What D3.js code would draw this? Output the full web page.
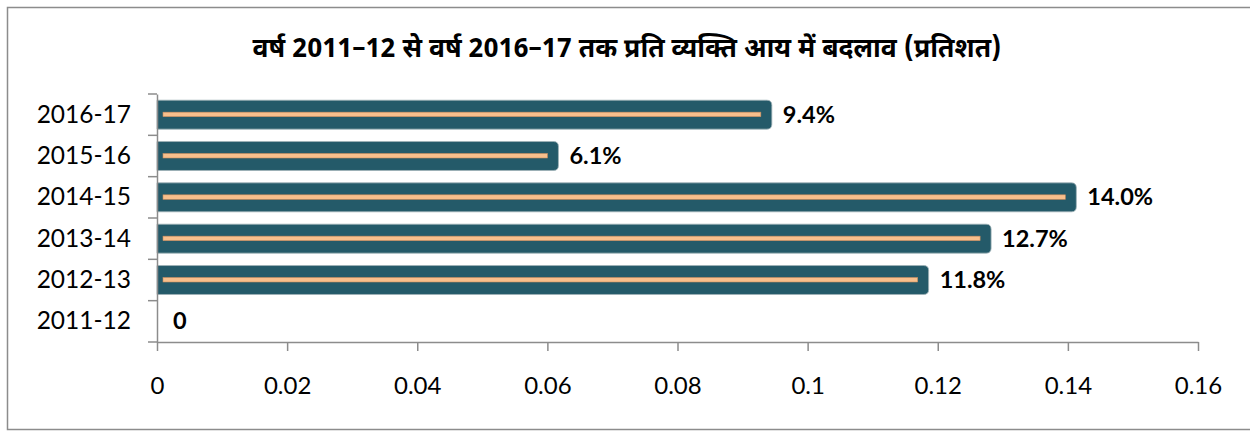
<!DOCTYPE html>
<html>
<head>
<meta charset="utf-8">
<script src="https://cdn.jsdelivr.net/npm/d3@7"></script>
<style>
  body { margin: 0; background: #fff; }
  svg { display: block; }
</style>
</head>
<body>
<div id="wrapper"></div>
<script>
// chart data
const years = ["2011-12", "2012-13", "2013-14", "2014-15", "2015-16", "2016-17"];
const growth = [0, 0.1186, 0.1282, 0.1413, 0.0617, 0.0945];
const valueLabels = ["0", "11.8%", "12.7%", "14.0%", "6.1%", "9.4%"];
const xTicks = [0, 0.02, 0.04, 0.06, 0.08, 0.1, 0.12, 0.14, 0.16];
const title = "वर्ष 2011–12 से वर्ष 2016–17 तक प्रति व्यक्ति आय में बदलाव (प्रतिशत)";

const data = years.map((y, i) => ({ year: y, value: growth[i], label: valueLabels[i] }));

const dims = {
  width: 1250,
  height: 432,
  margin: { top: 94, right: 52, bottom: 90, left: 157 }
};
dims.boundedWidth = dims.width - dims.margin.left - dims.margin.right;
dims.boundedHeight = dims.height - dims.margin.top - dims.margin.bottom - 0;

const svg = d3.select("#wrapper")
  .append("svg")
  .attr("width", dims.width)
  .attr("height", dims.height);

// outer frame
svg.append("rect")
  .attr("x", 7.5)
  .attr("y", 7.5)
  .attr("width", 1260)
  .attr("height", 422)
  .attr("fill", "none")
  .attr("stroke", "#8c8c8c")
  .attr("stroke-width", 1.5);

svg.append("text")
  .attr("x", 627)
  .attr("y", 57)
  .attr("text-anchor", "middle")
  .attr("font-family", "'Noto Sans Devanagari', 'Noto Sans', sans-serif")
  .attr("font-size", "26.5px")
  .attr("font-weight", "bold")
  .text(title);

const bounds = svg.append("g")
  .attr("transform", `translate(${dims.margin.left},${dims.margin.top})`);

const x = d3.scaleLinear()
  .domain([0, 0.16])
  .range([0, 1041]);

const y = d3.scaleBand()
  .domain(years.slice().reverse())
  .range([0, 248])
  .paddingInner(0.3)
  .paddingOuter(0.15);

const axisColor = "#8c8c8c";

// bars, rounded on the right end only
const barPath = (w, h, r) => {
  r = Math.min(r, w, h / 2);
  return `M0,0 H${w - r} Q${w},0 ${w},${r} V${h - r} Q${w},${h} ${w - r},${h} H0 Z`;
};

const barGroups = bounds.selectAll("g.bar")
  .data(data.filter(d => d.value > 0))
  .join("g")
  .attr("class", "bar")
  .attr("transform", d => `translate(0,${y(d.year)})`);

barGroups.append("path")
  .attr("d", d => barPath(x(d.value), y.bandwidth(), 5))
  .attr("fill", "#245a69")
  .attr("stroke", "#9fb3b8")
  .attr("stroke-width", 0.8);

barGroups.append("rect")
  .attr("x", 6)
  .attr("y", y.bandwidth() / 2 - 2.5)
  .attr("width", d => x(d.value) - 17)
  .attr("height", 4.5)
  .attr("fill", "#f8bf8c")
  .attr("stroke", "#c98c5e")
  .attr("stroke-width", 0.6);

// value labels
bounds.selectAll("text.val")
  .data(data)
  .join("text")
  .attr("class", "val")
  .attr("x", d => d.value > 0 ? x(d.value) + 11 : 16)
  .attr("y", d => y(d.year) + y.bandwidth() / 2 + 8)
  .attr("font-family", "Lato, 'Open Sans', sans-serif")
  .attr("font-weight", "bold")
  .attr("font-size", "23.5px")
  .text(d => d.label);

// x axis
const xAxisGen = d3.axisBottom(x)
  .tickValues(xTicks)
  .tickFormat(d => d3.format("")(+d.toFixed(2)))
  .tickSize(9)
  .tickSizeOuter(0)
  .tickPadding(26);

const xAxis = bounds.append("g")
  .attr("transform", `translate(0,248)`)
  .call(xAxisGen);

xAxis.select(".domain").attr("stroke", axisColor).attr("stroke-width", 1.5);
xAxis.selectAll(".tick line").attr("stroke", axisColor).attr("stroke-width", 1.5);
xAxis.selectAll(".tick text")
  .attr("font-family", "Lato, 'Open Sans', sans-serif")
  .attr("font-size", "24px")
  .attr("fill", "#000");

// y axis
const yAxisGen = d3.axisLeft(y)
  .tickSize(0)
  .tickPadding(26);

const yAxis = bounds.append("g").call(yAxisGen);
yAxis.select(".domain").attr("stroke", axisColor).attr("stroke-width", 1.5);
yAxis.selectAll(".tick text")
  .attr("font-family", "Lato, 'Open Sans', sans-serif")
  .attr("font-size", "24.5px")
  .attr("fill", "#000");

// boundary ticks between categories
const boundaries = d3.range(years.length + 1).map(i => i * y.step());
bounds.selectAll("line.ytick")
  .data(boundaries)
  .join("line")
  .attr("class", "ytick")
  .attr("x1", -9)
  .attr("x2", 0)
  .attr("y1", d => d)
  .attr("y2", d => d)
  .attr("stroke", axisColor)
  .attr("stroke-width", 1.5);
</script>
</body>
</html>
